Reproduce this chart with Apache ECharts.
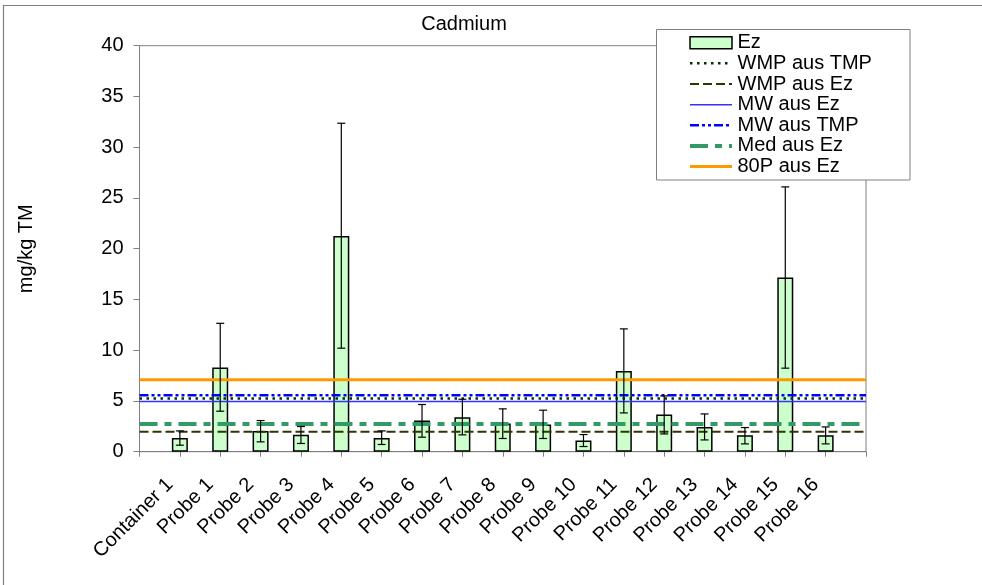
<!DOCTYPE html>
<html>
<head>
<meta charset="utf-8">
<script src="https://cdn.jsdelivr.net/npm/echarts@6/dist/echarts.min.js"></script>
<style>
html,body{margin:0;padding:0;background:#fff;}
#chart{width:982px;height:585px;}
</style>
</head>
<body>
<div id="chart"></div>
<script>
// ---- data ----
const categories = ['Container 1','Probe 1','Probe 2','Probe 3','Probe 4','Probe 5','Probe 6','Probe 7','Probe 8','Probe 9','Probe 10','Probe 11','Probe 12','Probe 13','Probe 14','Probe 15','Probe 16'];
const ezValues  = [1.36, 8.3, 2.05, 1.66, 21.26, 1.36, 3.07, 3.40, 2.78, 2.68, 1.10, 7.96, 3.66, 2.44, 1.63, 17.16, 1.63];
const errHigh   = [2.05, 12.65, 3.07, 2.48, 32.36, 2.05, 4.65, 5.17, 4.22, 4.09, 1.69, 12.1, 5.5, 3.72, 2.38, 26.09, 2.44];
const errLow    = [0.64, 3.99, 0.97, 0.81, 10.2, 0.71, 1.43, 1.66, 1.30, 1.30, 0.51, 3.82, 1.75, 1.16, 0.77, 8.23, 0.77];
const lineNames = ['WMP aus TMP','WMP aus Ez','MW aus Ez','MW aus TMP','Med aus Ez','80P aus Ez'];
const lineValues = [5.25, 1.97, 4.95, 5.55, 2.72, 7.09];
const yTicks = [0,5,10,15,20,25,30,35,40];

// ---- styles ----
const lineStyles = [
  {color:'#003300', width:2.5, type:[2.5,4.5]},
  {color:'#333300', width:2, type:[9,4]},
  {color:'#3333FF', width:1.5, type:'solid'},
  {color:'#0000FF', width:2.5, type:[9,3,3,3,3,3]},
  {color:'#339966', width:4, type:[18,7,7,7]},
  {color:'#FF9900', width:3, type:'solid'}
];

const axisCats = [''].concat(categories, ['']);
const FONT = 'Liberation Sans, Arial, sans-serif';

const chart = echarts.init(document.getElementById('chart'), null, {renderer:'canvas'});

const series = [];
series.push({
  name:'Ez', type:'bar', barWidth:16, z:2,
  itemStyle:{color:'#CCFFCC', borderColor:'#000', borderWidth:1.5},
  data: ezValues.map((v,i)=>[categories[i], v])
});
lineNames.forEach((n,k)=>{
  series.push({
    name:n, type:'line', symbol:'none', z:3, silent:true,
    lineStyle: lineStyles[k],
    itemStyle:{color: lineStyles[k].color},
    data: axisCats.map(()=>lineValues[k])
  });
});
series.push({
  name:'err', type:'custom', z:5, silent:true,
  renderItem:function(params, api){
    const x = api.value(0);
    const hi = api.coord([x, api.value(1)]);
    const lo = api.coord([x, api.value(2)]);
    const w = 4;
    const st = {stroke:'#000', lineWidth:1.2};
    return {type:'group', children:[
      {type:'line', shape:{x1:hi[0], y1:hi[1], x2:lo[0], y2:lo[1]}, style:st},
      {type:'line', shape:{x1:hi[0]-w, y1:hi[1], x2:hi[0]+w, y2:hi[1]}, style:st},
      {type:'line', shape:{x1:lo[0]-w, y1:lo[1], x2:lo[0]+w, y2:lo[1]}, style:st}
    ]};
  },
  data: categories.map((c,i)=>[c, errHigh[i], errLow[i]])
});

// ---- legend drawn as graphics ----
const LG = {x:656.5, y:29.5, w:253.5, h:150.5, iconX1:690, iconX2:732, textX:737.5, row0:42.7, rowH:20.65};
const legendEls = [];
legendEls.push({type:'rect', shape:{x:LG.x, y:LG.y, width:LG.w, height:LG.h},
  style:{fill:'#fff', stroke:'#808080', lineWidth:1}, z:100});
const legendNames = ['Ez'].concat(lineNames);
legendNames.forEach((n,i)=>{
  const cy = LG.row0 + i*LG.rowH;
  if(i===0){
    legendEls.push({type:'rect', shape:{x:LG.iconX1, y:cy-6, width:LG.iconX2-LG.iconX1, height:12},
      style:{fill:'#CCFFCC', stroke:'#000', lineWidth:1.5}, z:101});
  } else {
    const ls = lineStyles[i-1];
    legendEls.push({type:'line', shape:{x1:LG.iconX1, y1:cy, x2:LG.iconX2, y2:cy},
      style:{stroke:ls.color, lineWidth:ls.width, lineDash: Array.isArray(ls.type)?ls.type:null}, z:101});
  }
  legendEls.push({type:'text', x:LG.textX, y:cy, z:101,
    style:{text:n, font:'20px ' + FONT, fill:'#000', verticalAlign:'middle', align:'left'}});
});

chart.setOption({
  animation:false,
  backgroundColor:'#fff',
  textStyle:{fontFamily:FONT},
  title:{text:'Cadmium', left:459, top:9, textAlign:'center',
    textStyle:{fontFamily:FONT, fontSize:20, fontWeight:'normal', color:'#000'}},
  graphic:[{type:'rect', shape:{x:3.5, y:5.5, width:1200, height:1200},
    style:{fill:'none', stroke:'#808080', lineWidth:1.2}, z:-10}].concat(legendEls),
  grid:{left:139.5, right:116, top:45.7, bottom:133.3, show:true, borderColor:'#808080', borderWidth:1, backgroundColor:'transparent'},
  xAxis:{
    type:'category', data:axisCats, boundaryGap:false,
    axisLine:{lineStyle:{color:'#808080', width:1}},
    axisTick:{show:true, length:5, interval:0, lineStyle:{color:'#808080'}},
    axisLabel:{interval:0, rotate:45, fontSize:20, color:'#000', fontFamily:FONT, margin:20, padding:[0,14,0,0]},
    splitLine:{show:false}
  },
  yAxis:{
    type:'value', min:yTicks[0], max:yTicks[yTicks.length-1], interval:5,
    name:'mg/kg TM', nameLocation:'middle', nameGap:103, nameRotate:90,
    nameTextStyle:{fontFamily:FONT, fontSize:20, color:'#000'},
    axisLine:{show:true, lineStyle:{color:'#808080', width:1}},
    axisTick:{show:true, length:6, lineStyle:{color:'#808080'}},
    axisLabel:{fontSize:20, color:'#000', fontFamily:FONT, margin:16},
    splitLine:{show:false}
  },
  series: series
});
</script>
</body>
</html>
